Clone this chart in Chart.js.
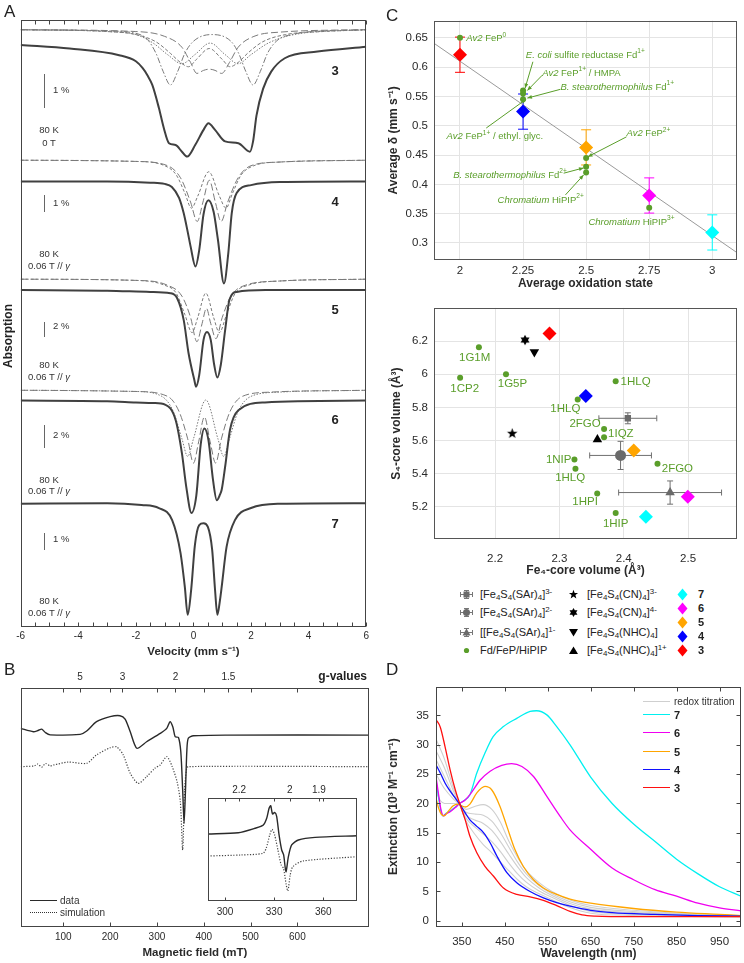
<!DOCTYPE html>
<html><head><meta charset="utf-8">
<script src="https://cdn.jsdelivr.net/npm/chart.js@4.4.1/dist/chart.umd.min.js"></script>
<style>
html,body{margin:0;padding:0;background:#fff;}
body{width:744px;height:963px;position:relative;overflow:hidden;font-family:"Liberation Sans",Arial,Helvetica,sans-serif;color:#222;}
canvas{position:absolute;}
.t{position:absolute;white-space:nowrap;}
sub,sup{font-size:0.72em;line-height:0;}
sub{vertical-align:-0.28em;} sup{vertical-align:0.5em;}
</style></head><body>
<canvas id="cA" width="372" height="665" style="left:0px;top:0px"></canvas>
<canvas id="cB" width="372" height="303" style="left:0px;top:660px"></canvas>
<canvas id="cBi" width="165" height="140" style="left:200px;top:780px"></canvas>
<canvas id="cC1" width="364" height="295" style="left:380px;top:0px"></canvas>
<canvas id="cC2" width="364" height="285" style="left:380px;top:295px"></canvas>
<canvas id="cD" width="364" height="298" style="left:380px;top:665px"></canvas>
<script>
// ================= DATA =================
// ---- Panel A: Mössbauer spectra (velocity mm/s, stacked absorption in arbitrary units)
const velTicks = [-6,-5.5,-5,-4.5,-4,-3.5,-3,-2.5,-2,-1.5,-1,-0.5,0,0.5,1,1.5,2,2.5,3,3.5,4,4.5,5,5.5,6];
const spec3 = [[-6,95.9],[-4.3,95.3],[-2.58,94.2],[-2,93.2],[-1.77,92.1],[-1.6,90.9],[-1.43,89.3],[-1.2,85.5],[-1.03,82.2],[-0.85,79.7],[-0.62,79.4],[-0.4,78.3],[-0.22,77.5],[0.06,79.4],[0.35,81.9],[0.52,83.0],[0.75,81.9],[1.1,80.0],[1.56,79.7],[1.96,78.3],[2.07,80.0],[2.19,84.3],[2.42,88.7],[2.7,91.5],[3.17,93.7],[4.31,94.8],[6,95.6]];
const comp3a = [[-6,98.4],[-3,98.2],[-2,97.8],[-1.6,96.8],[-1.3,94.5],[-1.05,91.5],[-0.8,89.3],[-0.55,91.5],[-0.3,94.5],[0,96.5],[0.63,97.6],[1.3,96.5],[1.57,94.5],[1.82,91.5],[2.07,89.3],[2.32,91.5],[2.57,94.5],[2.9,96.6],[3.5,97.7],[4.5,98.2],[6,98.4]];
const comp3b = [[-6,98.4],[-3,98.1],[-2,97.6],[-1.3,96.4],[-0.8,94.5],[-0.45,93],[-0.17,92.3],[0.1,93.5],[0.55,95.3],[1.0,93.5],[1.27,92.3],[1.55,93],[1.9,94.6],[2.4,96.4],[3.2,97.6],[4.5,98.1],[6,98.4]];
const comp3c = [[-6,98.4],[-3,98.1],[-2,97.6],[-1.4,96.2],[-0.9,94.3],[-0.4,92.8],[0.05,94.3],[0.58,96.2],[1.1,94.3],[1.55,92.8],[2.0,94.3],[2.6,96.2],[3.5,97.6],[6,98.4]];
const comp3d = [[-6,98.4],[-2,98.1],[-1,97.3],[-0.4,95.5],[-0.1,93],[0.12,91.2],[0.35,91.7],[0.55,91.9],[0.75,91.7],[0.98,91.2],[1.25,93],[1.55,95.5],[2.1,97.3],[3,98],[6,98.4]];
const spec4 = [[-6,73.4],[-3,73.4],[-1.5,73.2],[-1.0,73.0],[-0.75,72.5],[-0.5,70.7],[-0.34,68.2],[-0.2,65.1],[-0.1,62.7],[0.07,59.4],[0.2,62.1],[0.35,68.0],[0.52,70.3],[0.7,68.4],[0.85,63.8],[1.06,56.6],[1.21,61.6],[1.33,68.2],[1.5,71.5],[2.0,72.8],[3,73.3],[6,73.4]];
const comp4a = [[-6,76.9],[-2,76.7],[-1,76],[-0.6,74.5],[-0.3,71.5],[-0.07,69],[0.15,71],[0.53,75],[0.9,71],[1.13,69],[1.36,71.5],[1.66,74.5],[2.1,76],[3,76.6],[6,76.9]];
const comp4b = [[-6,76.9],[-2,76.7],[-0.9,76],[-0.45,74],[-0.1,70],[0.13,66.8],[0.33,70],[0.55,73.6],[0.76,70],[0.96,66.8],[1.19,70],[1.55,74],[2.0,76],[3,76.6],[6,76.9]];
const spec5 = [[-6,55.5],[-3,55.4],[-1.5,55.2],[-0.8,55.0],[-0.57,54.2],[-0.34,50.6],[-0.17,45.1],[0.03,40.7],[0.09,39.6],[0.2,41.5],[0.35,47.3],[0.47,48.6],[0.6,47.3],[0.72,43.2],[0.83,41.1],[0.95,43.2],[1.1,48.9],[1.25,53.9],[1.5,55.2],[2.5,55.5],[6,55.5]];
const comp5a = [[-6,57.3],[-2,57.1],[-1,56.3],[-0.6,55],[-0.3,51.5],[-0.05,48.5],[0.15,51],[0.43,55],[0.7,51],[0.9,48.5],[1.15,51.5],[1.45,55],[1.9,56.3],[3,57],[6,57.3]];
const comp5b = [[-6,57.3],[-2,57.1],[-0.9,56.3],[-0.4,54.5],[-0.1,51],[0.12,47],[0.3,50],[0.45,52.5],[0.6,50],[0.78,47.5],[1.0,51],[1.3,54.5],[1.8,56.3],[3,57],[6,57.3]];
const spec6 = [[-6,37.3],[-3,37.2],[-2,37.0],[-1.4,36.9],[-0.97,36.6],[-0.62,34.1],[-0.4,28.6],[-0.25,23.1],[-0.07,18.8],[0.1,21.7],[0.25,30.0],[0.38,32.7],[0.52,30.8],[0.68,24.2],[0.81,20.9],[0.92,21.8],[0.98,22.6],[1.1,26.4],[1.27,32.5],[1.56,35.7],[2.48,37.0],[6,37.3]];
const comp6a = [[-6,39],[-2,38.8],[-1.1,38],[-0.7,35.5],[-0.4,31],[-0.2,28.1],[0.0,31],[0.43,37.4],[0.85,31],[1.05,28.1],[1.25,31],[1.55,35.5],[2.0,38],[3,38.7],[6,39]];
const comp6b = [[-6,39],[-2,38.8],[-0.9,38],[-0.5,35.5],[-0.2,31],[0.0,27],[0.18,30.5],[0.38,34.6],[0.58,30.5],[0.77,27],[0.97,31],[1.27,35.5],[1.7,38],[2.7,38.7],[6,39]];
const spec7 = [[-6,20.3],[-3,20.4],[-1.8,20.1],[-1.2,19.6],[-0.74,17.6],[-0.45,12.2],[-0.3,6.6],[-0.2,2.0],[-0.08,6.1],[0.05,13.5],[0.2,16.8],[0.35,17.1],[0.5,16.5],[0.65,12.7],[0.75,6.1],[0.83,2.0],[0.92,4.4],[0.98,6.6],[1.15,13.2],[1.44,17.6],[2.0,19.6],[3,20.3],[6,20.4]];

// ---- Panel B: EPR (magnetic field mT, intensity a.u.)
const fieldTicks = [100,200,300,400,500,600];
const gTicks = [5,3,2,1.5];
const HNU_MT = 679;               // h*nu/(muB) in mT  (B = HNU_MT / g)
const eprData = [[9,83.1],[36,81.7],[46,82.2],[54,82.8],[62,81.3],[72,80.4],[136,80.6],[150,82.0],[171,85.9],[200,88.0],[221,88.4],[232,87.0],[243,81.7],[257,74.8],[278,77.5],[307,81.0],[321,83.1],[328,85.9],[334,83.7],[339,79.6],[346,79.3],[351,73.3],[355,57.3],[358,43.4],[361,57.3],[364,74.1],[367,79.0],[378,80.0],[450,80.3],[753,80.3]];
const eprSim = [[9,67.1],[38,67.4],[45,68.2],[54,66.9],[62,68.4],[72,67.4],[80,67.8],[110,69.0],[150,68.5],[171,72.0],[200,75.0],[214,75.4],[228,72.0],[243,64.3],[260,60.1],[278,62.9],[296,66.5],[307,67.8],[321,71.3],[332,67.4],[343,60.8],[350,52.4],[355,32.2],[359,57.3],[363,65.7],[367,67.1],[753,67.1]];
const insetTicks = [300,330,360];
const insetGTicks = [2.2,2,1.9];
const eprDataZoom = [[289.6,65.0],[308.1,66.3],[318.3,70.6],[323.4,73.8],[325.5,80.6],[326.9,90.0],[327.9,92.5],[329.0,84.5],[330.3,86.0],[331.5,82.5],[333,64.1],[334.6,49.5],[335.8,44.7],[337.2,28.4],[338.7,43.0],[340.7,54.4],[344.8,59.2],[355,61.8],[380.6,63.4]];
const eprSimZoom = [[289.6,43.7],[310,44.7],[323.2,46.3],[325.2,51.5],[327.3,64.1],[328.7,69.6],[330.3,64.1],[332.3,49.5],[334.3,35.0],[335.7,31.7],[337.4,15.5],[338.4,9.7],[339.8,25.2],[341.4,33.3],[347.5,38.8],[380.6,43.0]];

// ---- Panel C (top): average isomer shift vs oxidation state
const clusterColors = ['#ff0000','#0000ff','#ffa500','#ff00ff','#00ffff']; // 3,4,5,6,7
const oxState = [2, 2.25, 2.5, 2.75, 3];
const deltaAvg = [0.621, 0.524, 0.463, 0.381, 0.318];
const deltaErr = [0.03, 0.03, 0.03, 0.03, 0.03];
const refOx = [2, 2.25, 2.25, 2.25, 2.5, 2.5, 2.5, 2.75];
const refDelta = [0.65, 0.56, 0.555, 0.545, 0.445, 0.43, 0.42, 0.36];
const fitX = [1.897, 3.098];
const fitY = [0.6405, 0.2835];
const oxTicks = [2, 2.25, 2.5, 2.75, 3];
const deltaTicks = [0.3,0.35,0.4,0.45,0.5,0.55,0.6,0.65];

// ---- Panel C (bottom): core volumes
const feVol = [2.2845, 2.341, 2.4155, 2.4995, 2.4344];   // 3,4,5,6,7
const sVol  = [6.246, 5.868, 5.54, 5.26, 5.14];
const protCodes = ['1G1M','1CP2','1G5P','1HLQ','1HLQ','2FGO','1IQZ','1NIP','1HLQ','2FGO','1HPI','1HIP'];
const protFe = [2.1748,2.1456,2.2169,2.3874,2.3284,2.3694,2.3694,2.3233,2.3249,2.4524,2.3587,2.3874];
const protS  = [6.162,5.978,6.0,5.958,5.848,5.67,5.62,5.486,5.43,5.46,5.28,5.162];
const sarFe = [2.4063, 2.395, 2.472];     // [Fe4S4(SAr)4] 3-, 2-, 1-
const sarS = [5.734, 5.51, 5.286];
const sarFeErr = [0.045, 0.048, 0.08];
const sarSErr = [0.033, 0.085, 0.07];
const cn3 = [2.2266, 5.642];
const cn4 = [2.2465, 6.206];
const nhc0 = [2.261, 6.134];
const nhc1 = [2.359, 5.606];
const feTicks = [2.2, 2.3, 2.4, 2.5];
const sTicks = [5.2, 5.4, 5.6, 5.8, 6, 6.2];

// ---- Panel D: UV-vis spectra (nm, 10^3 M-1 cm-1)
const wlTicks = [350,450,550,650,750,850,950];
const extTicks = [0,5,10,15,20,25,30,35];
const uv7 = [[290,24],[296,21],[302,18.5],[307,17.9],[313,18.3],[323,18.7],[335,19.4],[345,20],[357,20.6],[369,21.5],[385,25.2],[404,28.6],[423,31.4],[447,33.1],[478,34.5],[509,35.7],[524,35.8],[548,35.1],[571,33.1],[602,30],[650,24.5],[700,20],[750,16.5],[800,13.5],[850,10.5],[900,8],[950,5.8],[1000,4.2]];
const uv6 = [[290,24.6],[296,21.5],[302,18.8],[307,17.9],[313,18.2],[323,18.6],[335,19.3],[345,20],[358,20.6],[369,21.5],[393,24],[416,25.5],[443,26.5],[466,26.8],[490,26.3],[517,24.6],[548,21.2],[579,17.8],[602,15.5],[650,12.2],[700,9],[750,7],[800,5.3],[850,4.2],[900,3],[950,2.2],[1000,1.7]];
const uv5 = [[290,20.9],[296,19.2],[302,18.2],[309,17.9],[318,18.6],[330,19.6],[341,19.9],[350,19.6],[358,19.4],[369,19.9],[385,21.8],[404,22.9],[420,22.3],[439,19.5],[455,16.1],[474,12.1],[493,9.3],[517,7],[540,5.6],[571,4.5],[602,3.7],[650,3],[750,2.1],[850,1.5],[950,1.1],[1000,0.9]];
const uv4 = [[290,26.6],[300,25.2],[311,23.5],[323,22.1],[335,20.9],[346,19.8],[358,18.4],[369,17.2],[385,16.1],[401,15],[416,13.3],[432,11],[455,8.2],[478,6.5],[509,5],[540,3.9],[571,3.1],[602,2.5],[650,1.8],[700,1.4],[800,1.1],[900,0.9],[1000,0.8]];
const uv3 = [[290,34.3],[300,33],[311,29.7],[323,25.7],[335,22.3],[346,19.8],[358,17.2],[369,14.4],[385,11.6],[404,9.3],[424,7.6],[447,5.6],[478,4.5],[509,4.1],[540,3.5],[571,2.6],[602,1.6],[630,1.0],[660,0.8],[750,0.7],[850,0.7],[1000,0.7]];
const titr1 = [[290,22],[300,20.5],[310,20],[330,20],[345,19.8],[360,19],[380,19.5],[400,19.8],[420,19],[440,16.8],[460,13.5],[480,10.8],[500,8.6],[530,6.5],[560,5],[600,3.6],[650,2.6],[750,1.8],[850,1.3],[1000,0.9]];
const titr2 = [[290,25],[310,22.5],[330,20.8],[345,19.8],[360,18.5],[380,18.2],[400,18],[420,17],[440,15],[460,12.5],[480,10],[500,8],[530,6],[560,4.6],[600,3.3],[650,2.3],[750,1.6],[850,1.2],[1000,0.8]];
const titr3 = [[290,27.5],[310,24.5],[330,21.5],[345,19.8],[360,18],[380,17.2],[400,16.6],[420,15.4],[440,13.5],[460,11.3],[480,9.2],[500,7.4],[530,5.6],[560,4.3],[600,3],[650,2],[750,1.4],[850,1.1],[1000,0.8]];
const titr4 = [[290,29],[310,26],[330,22.2],[345,19.8],[360,17.5],[380,16],[400,14.8],[420,13.5],[440,11.8],[460,9.8],[480,8],[500,6.6],[530,5.1],[560,4],[600,2.7],[650,1.6],[750,1.1],[850,0.9],[1000,0.7]];
const titr5 = [[290,31],[310,27.5],[330,22.8],[345,19.8],[360,17],[380,14.8],[400,13],[420,11.6],[440,10],[460,8.5],[480,7],[500,5.8],[530,4.6],[560,3.6],[600,2.3],[650,1.3],[750,0.9],[850,0.8],[1000,0.6]];

// ================= HELPERS =================
const FONT = '"Liberation Sans", Arial, Helvetica, sans-serif';
Chart.defaults.font.family = FONT;
Chart.defaults.color = '#2a2a2a';
const GREEN = '#5a9e2a';
const xy = arr => arr.map(p => ({x:p[0], y:p[1]}));
const pairs = (xs, ys) => xs.map((x,i) => ({x, y:ys[i]}));
const setTicks = arr => (s => { s.ticks = arr.map(v => ({value:v})); });
const fixH = h => (s => { s.height = h; });
const fixW = w => (s => { s.width = w; });
const noGrid = {display:false, drawTicks:false, tickLength:0};
function seg(ctx,x1,y1,x2,y2){ctx.beginPath();ctx.moveTo(x1,y1);ctx.lineTo(x2,y2);ctx.stroke();}

const boxTicks = {
  id:'boxTicks',
  afterDraw(chart, args, o){
    const ctx = chart.ctx, a = chart.chartArea;
    ctx.save();
    ctx.strokeStyle = o.color || '#333'; ctx.lineWidth = 1;
    const L = Math.round(a.left)+0.5, R = Math.round(a.right)-0.5, T = Math.round(a.top)+0.5, B = Math.round(a.bottom)-0.5;
    ctx.strokeRect(L, T, R-L, B-T);
    const len = o.len || 4;
    (o.axes || []).forEach(s => {
      const sc = chart.scales[s.id]; if (!sc) return;
      sc.ticks.forEach(t => {
        const p = Math.round(sc.getPixelForValue(t.value))+0.5;
        if (sc.isHorizontal()) {
          if (p < L-1 || p > R+1) return;
          if (s.bottom) seg(ctx,p,B,p,B-len);
          if (s.top) seg(ctx,p,T,p,T+len);
        } else {
          if (s.left) seg(ctx,L,p,L+len,p);
          if (s.right) seg(ctx,R,p,R-len,p);
        }
      });
    });
    ctx.restore();
  }
};

const errBars = {
  id:'errBars',
  beforeDatasetsDraw(chart){
    const ctx = chart.ctx;
    chart.data.datasets.forEach(ds => {
      if (!ds.errX && !ds.errY) return;
      const xs = chart.scales.x, ys = chart.scales.y, c = ds.errCap || 3;
      ctx.save(); ctx.lineWidth = 1;
      ds.data.forEach((pt, j) => {
        ctx.strokeStyle = Array.isArray(ds.errColor) ? ds.errColor[j] : (ds.errColor || '#777');
        const px = xs.getPixelForValue(pt.x), py = ys.getPixelForValue(pt.y);
        if (ds.errY) { const e = ds.errY[j]; const y1 = ys.getPixelForValue(pt.y-e), y2 = ys.getPixelForValue(pt.y+e);
          seg(ctx,px,y1,px,y2); seg(ctx,px-c,y1,px+c,y1); seg(ctx,px-c,y2,px+c,y2); }
        if (ds.errX) { const e = ds.errX[j]; const x1 = xs.getPixelForValue(pt.x-e), x2 = xs.getPixelForValue(pt.x+e);
          seg(ctx,x1,py,x2,py); seg(ctx,x1,py-c,x1,py+c); seg(ctx,x2,py-c,x2,py+c); }
      });
      ctx.restore();
    });
  }
};

function drawRich(ctx, parts, x, y, align, size, color){
  const fontOf = st => (st === 'i' ? 'italic ' : '') + (st === 'sup' ? (size*0.7).toFixed(1) : size) + 'px ' + FONT;
  let w = 0; parts.forEach(p => { ctx.font = fontOf(p[1]); w += ctx.measureText(p[0]).width; });
  let cx = align === 'center' ? x - w/2 : (align === 'right' ? x - w : x);
  ctx.fillStyle = color; ctx.textBaseline = 'middle'; ctx.textAlign = 'left';
  parts.forEach(p => { ctx.font = fontOf(p[1]); const dy = p[1] === 'sup' ? -size*0.38 : 0; ctx.fillText(p[0], cx, y+dy); cx += ctx.measureText(p[0]).width; });
}
const notes = {
  id:'notes',
  afterDatasetsDraw(chart, args, o){
    const ctx = chart.ctx, xs = chart.scales.x, ys = chart.scales.y;
    ctx.save();
    ctx.strokeStyle = o.color; ctx.fillStyle = o.color; ctx.lineWidth = 1;
    (o.arrows || []).forEach(ar => {
      const x1 = xs.getPixelForValue(ar[0][0]), y1 = ys.getPixelForValue(ar[0][1]);
      const x2 = xs.getPixelForValue(ar[1][0]), y2 = ys.getPixelForValue(ar[1][1]);
      seg(ctx,x1,y1,x2,y2);
      const ang = Math.atan2(y2-y1, x2-x1), h = 5;
      ctx.beginPath(); ctx.moveTo(x2,y2);
      ctx.lineTo(x2 - h*Math.cos(ang-0.4), y2 - h*Math.sin(ang-0.4));
      ctx.lineTo(x2 - h*Math.cos(ang+0.4), y2 - h*Math.sin(ang+0.4));
      ctx.closePath(); ctx.fill();
    });
    (o.items || []).forEach(it => drawRich(ctx, it.parts, xs.getPixelForValue(it.x), ys.getPixelForValue(it.y), it.align || 'left', o.size, o.color));
    ctx.restore();
  }
};

function starCanvas(n, rOut, rIn, color, size){
  const c = document.createElement('canvas'); c.width = c.height = size;
  const g = c.getContext('2d'); g.fillStyle = color; g.beginPath();
  for (let k = 0; k < 2*n; k++) { const r = k % 2 ? rIn : rOut; const a = -Math.PI/2 + k*Math.PI/n;
    const px = size/2 + r*Math.cos(a), py = size/2 + r*Math.sin(a); k ? g.lineTo(px,py) : g.moveTo(px,py); }
  g.closePath(); g.fill(); return c;
}
const base = (extra) => Object.assign({
  animation:false, responsive:false, devicePixelRatio:1,
  elements:{point:{radius:0}, line:{cubicInterpolationMode:'monotone', borderJoinStyle:'round'}},
}, extra);
const noPlug = {legend:{display:false}, tooltip:{enabled:false}};

// ================= PANEL A =================
const grayC = '#7a7a7a', dataC = '#404040';
const subDs = (arr, dash) => ({data:xy(arr), borderColor:grayC, borderWidth:1, borderDash:dash, order:5});
const specDs = arr => ({data:xy(arr), borderColor:dataC, borderWidth:2, order:1});
new Chart(document.getElementById('cA'), {
  type:'line',
  data:{datasets:[
    subDs(comp3a,[6,2,1.5,2]), subDs(comp3b,[3.5,2]), subDs(comp3c,[1.5,1.5]), subDs(comp3d,[7,3]),
    subDs(comp4a,[3,2]), subDs(comp4b,[7,3]),
    subDs(comp5a,[3,2]), subDs(comp5b,[7,3]),
    subDs(comp6a,[1.5,1.5]), subDs(comp6b,[7,3]),
    specDs(spec3), specDs(spec4), specDs(spec5), specDs(spec6), specDs(spec7)
  ]},
  options: base({
    layout:{padding:{top:20, right:3, left:20.7, bottom:0}},
    scales:{
      x:{type:'linear', min:-6, max:6, afterBuildTicks:setTicks(velTicks), afterFit:fixH(38),
         grid:noGrid, border:{display:false},
         ticks:{autoSkip:false, maxRotation:0, padding:3, font:{size:10}, callback:v => (v % 2 === 0 ? String(v) : '')},
         title:{display:true, text:'Velocity (mm s⁻¹)', font:{size:11.5, weight:'bold'}, padding:{top:0, bottom:6}}},
      y:{display:false, min:0, max:100}
    },
    plugins:Object.assign({boxTicks:{color:'#444', len:4, axes:[{id:'x', top:true, bottom:true}]}}, noPlug)
  }),
  plugins:[boxTicks]
});

// ================= PANEL B =================
new Chart(document.getElementById('cB'), {
  type:'line',
  data:{datasets:[
    {data:xy(eprData), borderColor:'#2a2a2a', borderWidth:1.4, xAxisID:'x', order:1},
    {data:xy(eprSim), borderColor:'#444', borderWidth:1.2, borderDash:[1.2,1.6], xAxisID:'x', order:2}
  ]},
  options: base({
    layout:{padding:{top:0, right:3, left:20.7, bottom:0}},
    elements:{point:{radius:0}, line:{tension:0.25, borderJoinStyle:'round'}},
    scales:{
      x:{type:'linear', position:'bottom', min:9, max:753, afterBuildTicks:setTicks(fieldTicks), afterFit:fixH(36),
         grid:noGrid, border:{display:false},
         ticks:{autoSkip:false, maxRotation:0, padding:4, font:{size:10}},
         title:{display:true, text:'Magnetic field (mT)', font:{size:11.5, weight:'bold'}, padding:{top:0, bottom:3}}},
      x2:{type:'linear', position:'top', min:9, max:753, afterBuildTicks:setTicks(gTicks.map(g => HNU_MT/g)), afterFit:fixH(28),
         grid:noGrid, border:{display:false},
         ticks:{autoSkip:false, maxRotation:0, padding:5, font:{size:10}, callback:(v,i) => String(gTicks[i])}},
      y:{display:false, min:0, max:100}
    },
    plugins:Object.assign({boxTicks:{color:'#444', len:4, axes:[{id:'x', top:true, bottom:true},{id:'x2', top:true}]}}, noPlug)
  }),
  plugins:[boxTicks]
});
new Chart(document.getElementById('cBi'), {
  type:'line',
  data:{datasets:[
    {data:xy(eprDataZoom), borderColor:'#2a2a2a', borderWidth:1.4, xAxisID:'x', order:1},
    {data:xy(eprSimZoom), borderColor:'#444', borderWidth:1.2, borderDash:[1.2,1.6], xAxisID:'x', order:2}
  ]},
  options: base({
    layout:{padding:{top:0, right:8, left:8, bottom:0}},
    elements:{point:{radius:0}, line:{tension:0.25, borderJoinStyle:'round'}},
    scales:{
      x:{type:'linear', position:'bottom', min:289.6, max:380.6, afterBuildTicks:setTicks(insetTicks), afterFit:fixH(19),
         grid:noGrid, border:{display:false},
         ticks:{autoSkip:false, maxRotation:0, padding:5, font:{size:10}}},
      x2:{type:'linear', position:'top', min:289.6, max:380.6, afterBuildTicks:setTicks(insetGTicks.map(g => HNU_MT/g)), afterFit:fixH(18),
         grid:noGrid, border:{display:false},
         ticks:{autoSkip:false, maxRotation:0, padding:2, font:{size:10}, callback:(v,i) => String(insetGTicks[i])}},
      y:{display:false, min:0, max:100}
    },
    plugins:Object.assign({boxTicks:{color:'#444', len:3, axes:[{id:'x', top:true, bottom:true},{id:'x2', top:true}]}}, noPlug)
  }),
  plugins:[boxTicks]
});

// ================= PANEL C (top) =================
const cGrid = {color:'#e4e4e4', lineWidth:1, drawTicks:false, tickLength:0};
new Chart(document.getElementById('cC1'), {
  type:'scatter',
  data:{datasets:[
    {type:'line', data:pairs(fitX, fitY), borderColor:'#9a9a9a', borderWidth:1, pointRadius:0, order:10},
    {data:pairs(oxState, deltaAvg), errY:deltaErr, errColor:clusterColors, errCap:5,
     pointStyle:'rectRot', pointRadius:7, backgroundColor:clusterColors, borderColor:clusterColors, borderWidth:0, order:5},
    {data:pairs(refOx, refDelta), pointRadius:3, backgroundColor:GREEN, borderWidth:0, order:1}
  ]},
  options: base({
    layout:{padding:{top:20.7, right:4, left:0, bottom:0}},
    scales:{
      x:{type:'linear', min:1.897, max:3.098, afterBuildTicks:setTicks(oxTicks), afterFit:fixH(35),
         grid:cGrid, border:{display:false},
         ticks:{autoSkip:false, maxRotation:0, padding:4, font:{size:11.5}, callback:v => String(+v.toFixed(3))},
         title:{display:true, text:'Average oxidation state', font:{size:12, weight:'bold'}, padding:{top:0, bottom:4}}},
      y:{type:'linear', min:0.271, max:0.679, afterBuildTicks:setTicks(deltaTicks), afterFit:fixW(54),
         grid:cGrid, border:{display:false},
         ticks:{autoSkip:false, padding:6, font:{size:11.5}, callback:v => String(+v.toFixed(3))},
         title:{display:true, text:'Average δ (mm s⁻¹)', font:{size:12, weight:'bold'}, padding:{top:6, bottom:0}}}
    },
    plugins:Object.assign({
      boxTicks:{color:'#555'},
      notes:{color:GREEN, size:9.5,
        items:[
          {x:2.025, y:0.649, parts:[['Av2','i'],[' FeP',''],['0','sup']]},
          {x:2.261, y:0.6205, parts:[['E. coli','i'],[' sulfite reductase Fd',''],['1+','sup']]},
          {x:2.326, y:0.590, parts:[['Av2','i'],[' FeP',''],['1+','sup'],[' / HMPA','']]},
          {x:2.398, y:0.5655, parts:[['B. stearothermophilus','i'],[' Fd',''],['1+','sup']]},
          {x:1.947, y:0.481, parts:[['Av2','i'],[' FeP',''],['1+','sup'],[' / ethyl. glyc.','']]},
          {x:2.66, y:0.487, parts:[['Av2','i'],[' FeP',''],['2+','sup']]},
          {x:1.973, y:0.416, parts:[['B. stearothermophilus','i'],[' Fd',''],['2+','sup']]},
          {x:2.149, y:0.373, parts:[['Chromatium','i'],[' HiPIP',''],['2+','sup']]},
          {x:2.509, y:0.336, parts:[['Chromatium','i'],[' HiPIP',''],['3+','sup']]}
        ],
        arrows:[
          [[2.289,0.609],[2.258,0.564]], [[2.326,0.586],[2.267,0.560]], [[2.398,0.562],[2.267,0.547]],
          [[2.104,0.496],[2.262,0.545]], [[2.66,0.481],[2.507,0.447]], [[2.411,0.419],[2.49,0.428]],
          [[2.418,0.382],[2.49,0.416]]
        ]}
    }, noPlug)
  }),
  plugins:[errBars, notes, boxTicks]
});

// ================= PANEL C (bottom) =================
const protLabelFe = [2.1682,2.1528,2.2270,2.3951,2.3091,2.3398,2.3756,2.2988,2.3167,2.459,2.3398,2.3874];
const protLabelS  = [6.099,5.913,5.94,5.955,5.792,5.70,5.64,5.486,5.375,5.43,5.23,5.10];
const protLabelAlign = ['center','center','center','left','center','center','left','center','center','left','center','center'];
const starImg = starCanvas(5, 5.5, 2.3, '#000', 13);
const hexImg = starCanvas(6, 5.2, 2.9, '#000', 12);
new Chart(document.getElementById('cC2'), {
  type:'scatter',
  data:{datasets:[
    {data:pairs(sarFe, sarS), errX:sarFeErr, errY:sarSErr, errColor:'#707070', errCap:3,
     pointStyle:['rect','circle','triangle'], pointRadius:[4.5,5.5,5.5], backgroundColor:'#6a6a6a', borderWidth:0, order:6},
    {data:[{x:cn3[0], y:cn3[1]}], pointStyle:starImg, pointRadius:6, order:4},
    {data:[{x:cn4[0], y:cn4[1]}], pointStyle:hexImg, pointRadius:6, order:4},
    {data:[{x:nhc0[0], y:nhc0[1]}], pointStyle:'triangle', rotation:180, pointRadius:5.5, backgroundColor:'#000', borderWidth:0, order:4},
    {data:[{x:nhc1[0], y:nhc1[1]}], pointStyle:'triangle', pointRadius:5.5, backgroundColor:'#000', borderWidth:0, order:4},
    {data:pairs(feVol, sVol), pointStyle:'rectRot', pointRadius:7, backgroundColor:clusterColors, borderWidth:0, order:3},
    {data:pairs(protFe, protS), pointRadius:3, backgroundColor:GREEN, borderWidth:0, order:2}
  ]},
  options: base({
    layout:{padding:{top:11.7, right:4, left:0, bottom:0}},
    scales:{
      x:{type:'linear', min:2.105, max:2.576, afterBuildTicks:setTicks(feTicks), afterFit:fixH(40.7),
         grid:cGrid, border:{display:false},
         ticks:{autoSkip:false, maxRotation:0, padding:13, font:{size:11.5}, callback:v => String(+v.toFixed(2))},
         title:{display:true, text:'Fe₄-core volume (Å³)', font:{size:12, weight:'bold'}, padding:{top:0, bottom:2}}},
      y:{type:'linear', min:5.004, max:6.4, afterBuildTicks:setTicks(sTicks), afterFit:fixW(54),
         grid:cGrid, border:{display:false},
         ticks:{autoSkip:false, padding:6, font:{size:11.5}, callback:v => String(+v.toFixed(2))},
         title:{display:true, text:'S₄-core volume (Å³)', font:{size:12, weight:'bold'}, padding:{top:9, bottom:0}}}
    },
    plugins:Object.assign({
      boxTicks:{color:'#555'},
      notes:{color:GREEN, size:11.5, items:protCodes.map((c,i) => ({x:protLabelFe[i], y:protLabelS[i], align:protLabelAlign[i], parts:[[c,'']]}))}
    }, noPlug)
  }),
  plugins:[errBars, notes, boxTicks]
});

// ================= PANEL D =================
const titrC = '#cfcfcf';
const uvDs = (arr, col, w, ord) => ({data:xy(arr), borderColor:col, borderWidth:w, order:ord});
new Chart(document.getElementById('cD'), {
  type:'line',
  data:{datasets:[
    uvDs(titr1,titrC,1.1,20), uvDs(titr2,titrC,1.1,20), uvDs(titr3,titrC,1.1,20), uvDs(titr4,titrC,1.1,20), uvDs(titr5,titrC,1.1,20),
    uvDs(uv7,'#00f0f0',1.3,5), uvDs(uv6,'#f000f0',1.3,4), uvDs(uv5,'#ffa500',1.3,3), uvDs(uv4,'#1010ff',1.3,2), uvDs(uv3,'#ff1010',1.3,1)
  ]},
  options: base({
    layout:{padding:{top:21.7, right:3, left:0, bottom:0}},
    scales:{
      x:{type:'linear', min:290, max:1000, afterBuildTicks:setTicks(wlTicks), afterFit:fixH(36.3),
         grid:noGrid, border:{display:false},
         ticks:{autoSkip:false, maxRotation:0, padding:8, font:{size:11.5}},
         title:{display:true, text:'Wavelength (nm)', font:{size:12, weight:'bold'}, padding:{top:0, bottom:2}}},
      y:{type:'linear', min:-1, max:39.9, afterBuildTicks:setTicks(extTicks), afterFit:fixW(56),
         grid:noGrid, border:{display:false},
         ticks:{autoSkip:false, padding:7, font:{size:11.5}},
         title:{display:true, text:'Extinction (10³ M⁻¹ cm⁻¹)', font:{size:12, weight:'bold'}, padding:{top:6, bottom:0}}}
    },
    plugins:Object.assign({boxTicks:{color:'#444', len:4, axes:[{id:'x', top:true, bottom:true},{id:'y', left:true, right:true}]}}, noPlug)
  }),
  plugins:[boxTicks]
});

// ================= TEXT / DECORATIONS (HTML) =================
function addText(html, x, baseY, size, opt){
  opt = opt || {};
  const d = document.createElement('div'); d.className = 't'; d.innerHTML = html;
  d.style.fontSize = size + 'px'; d.style.lineHeight = size + 'px';
  d.style.top = (baseY - 0.8465*size) + 'px';
  if (opt.weight) d.style.fontWeight = opt.weight;
  d.style.color = opt.color || '#222';
  if (opt.align === 'center') { d.style.left = x + 'px'; d.style.transform = 'translateX(-50%)'; }
  else if (opt.align === 'right') { d.style.right = (744 - x) + 'px'; }
  else d.style.left = x + 'px';
  document.body.appendChild(d); return d;
}
function addBox(x, y, w, h, css){ const d = document.createElement('div'); d.style.position = 'absolute';
  d.style.left = x+'px'; d.style.top = y+'px'; d.style.width = w+'px'; d.style.height = h+'px'; Object.assign(d.style, css||{}); document.body.appendChild(d); }
function addIcon(cx, cy, w, h, fn){ const c = document.createElement('canvas'); c.width = w; c.height = h;
  c.style.left = (cx - w/2) + 'px'; c.style.top = (cy - h/2) + 'px'; fn(c.getContext('2d'), w, h); document.body.appendChild(c); }

// panel letters
addText('A', 4, 17, 17); addText('B', 4, 675, 17); addText('C', 386, 21, 17); addText('D', 386, 675, 17);

// panel A annotations
const rot = document.createElement('div'); rot.className = 't'; rot.textContent = 'Absorption';
Object.assign(rot.style, {left:'7.5px', top:'336px', fontSize:'12px', fontWeight:'bold', lineHeight:'12px', transform:'translate(-50%,-50%) rotate(-90deg)'});
document.body.appendChild(rot);
const specNames = ['3','4','5','6','7'];
const specNameBase = [75, 206, 314, 424, 528];
const barTop = [74, 195, 321.7, 425, 533.3], barBot = [108, 212.3, 336.7, 447.7, 550];
const barText = ['1 %','1 %','2 %','2 %','1 %'];
const barTextBase = [93.5, 205.7, 329, 438.5, 542.5];
const condBase1 = [133.5, 257.5, 368.5, 482.7, 604];
const condBase2 = [146, 269.5, 380.5, 494.5, 616];
const condText2 = ['0 T','0.06 T // <i>γ</i>','0.06 T // <i>γ</i>','0.06 T // <i>γ</i>','0.06 T // <i>γ</i>'];
specNames.forEach((n,i) => {
  addText(n, 335, specNameBase[i], 13, {weight:'bold', align:'center'});
  addBox(43.5, barTop[i], 1.5, barBot[i]-barTop[i], {background:'#666'});
  addText(barText[i], 53, barTextBase[i], 9.5, {color:'#333'});
  addText('80 K', 49, condBase1[i], 9.5, {align:'center', color:'#333'});
  addText(condText2[i], 49, condBase2[i], 9.5, {align:'center', color:'#333'});
});

// panel B texts / legend
addText('g-values', 367, 680, 12, {weight:'bold', align:'right'});
addBox(30, 900, 27, 1, {background:'#2a2a2a'});
addText('data', 60, 904, 10, {color:'#333'});
addBox(30, 912, 27, 0, {borderTop:'1px dotted #333'});
addText('simulation', 60, 916.5, 10, {color:'#333'});

// panel C legend
const legSize = 11;
const col1Y = [594.3, 612.7, 632.3, 650.3];
const col1Txt = ['[Fe<sub>4</sub>S<sub>4</sub>(SAr)<sub>4</sub>]<sup>3-</sup>','[Fe<sub>4</sub>S<sub>4</sub>(SAr)<sub>4</sub>]<sup>2-</sup>','[[Fe<sub>4</sub>S<sub>4</sub>(SAr)<sub>4</sub>]<sup>1-</sup>','Fd/FeP/HiPIP'];
const col2Txt = ['[Fe<sub>4</sub>S<sub>4</sub>(CN)<sub>4</sub>]<sup>3-</sup>','[Fe<sub>4</sub>S<sub>4</sub>(CN)<sub>4</sub>]<sup>4-</sup>','[Fe<sub>4</sub>S<sub>4</sub>(NHC)<sub>4</sub>]','[Fe<sub>4</sub>S<sub>4</sub>(NHC)<sub>4</sub>]<sup>1+</sup>'];
col1Txt.forEach((t,i) => addText(t, 480, col1Y[i]+4, legSize));
col2Txt.forEach((t,i) => addText(t, 587, col1Y[i]+4, legSize));
const errIcon = mk => (g,w,h) => { g.strokeStyle = '#777'; g.fillStyle = '#6a6a6a'; g.lineWidth = 1;
  seg(g,1,h/2,w-1,h/2); seg(g,1.5,h/2-2.5,1.5,h/2+2.5); seg(g,w-1.5,h/2-2.5,w-1.5,h/2+2.5);
  seg(g,w/2,2,w/2,h-2); seg(g,w/2-2.5,2.5,w/2+2.5,2.5); seg(g,w/2-2.5,h-2.5,w/2+2.5,h-2.5); mk(g,w/2,h/2); };
addIcon(466, col1Y[0], 15, 13, errIcon((g,x,y) => g.fillRect(x-3,y-3,6,6)));
addIcon(466, col1Y[1], 15, 13, errIcon((g,x,y) => { g.beginPath(); g.arc(x,y,3.5,0,2*Math.PI); g.fill(); }));
addIcon(466, col1Y[2], 15, 13, errIcon((g,x,y) => { g.beginPath(); g.moveTo(x,y-4); g.lineTo(x+4,y+3); g.lineTo(x-4,y+3); g.closePath(); g.fill(); }));
addIcon(466, col1Y[3], 7, 7, (g) => { g.fillStyle = GREEN; g.beginPath(); g.arc(3.5,3.5,2.6,0,2*Math.PI); g.fill(); });
addIcon(573, col1Y[0], 11, 11, (g) => g.drawImage(starCanvas(5,4.8,2,'#000',11),0,0));
addIcon(573, col1Y[1], 11, 11, (g) => g.drawImage(starCanvas(6,4.6,2.6,'#000',11),0,0));
addIcon(573, col1Y[2], 11, 11, (g) => { g.fillStyle = '#000'; g.beginPath(); g.moveTo(1,2); g.lineTo(10,2); g.lineTo(5.5,9.5); g.closePath(); g.fill(); });
addIcon(573, col1Y[3], 11, 11, (g) => { g.fillStyle = '#000'; g.beginPath(); g.moveTo(1,9); g.lineTo(10,9); g.lineTo(5.5,1.5); g.closePath(); g.fill(); });
const col3Y = [594.3, 608, 622.3, 636.7, 650.7];
const col3Lab = ['7','6','5','4','3'];
const col3Col = ['#00ffff','#ff00ff','#ffa500','#0000ff','#ff0000'];
col3Lab.forEach((t,i) => {
  addIcon(682, col3Y[i], 11, 13, (g,w,h) => { g.fillStyle = col3Col[i]; g.beginPath(); g.moveTo(w/2,0.5); g.lineTo(w-0.5,h/2); g.lineTo(w/2,h-0.5); g.lineTo(0.5,h/2); g.closePath(); g.fill(); });
  addText(t, 698, col3Y[i]+4, 11, {weight:'bold'});
});

// panel D legend
const dLegY = [702, 715, 733, 752, 770, 788];
const dLegCol = [titrC, '#00f0f0', '#f000f0', '#ffa500', '#1010ff', '#ff1010'];
const dLegTxt = ['redox titration','7','6','5','4','3'];
dLegTxt.forEach((t,i) => {
  const bar = document.createElement('div');
  Object.assign(bar.style, {position:'absolute', left:'643px', top:(dLegY[i]-1)+'px', width:'27px', height:'1px', backgroundColor:dLegCol[i]});
  document.body.appendChild(bar);
  if (i === 0) addText(t, 674, dLegY[i]+3.5, 10, {color:'#333'});
  else addText(t, 674, dLegY[i]+4, 11, {weight:'bold'});
});
</script>
</body></html>
